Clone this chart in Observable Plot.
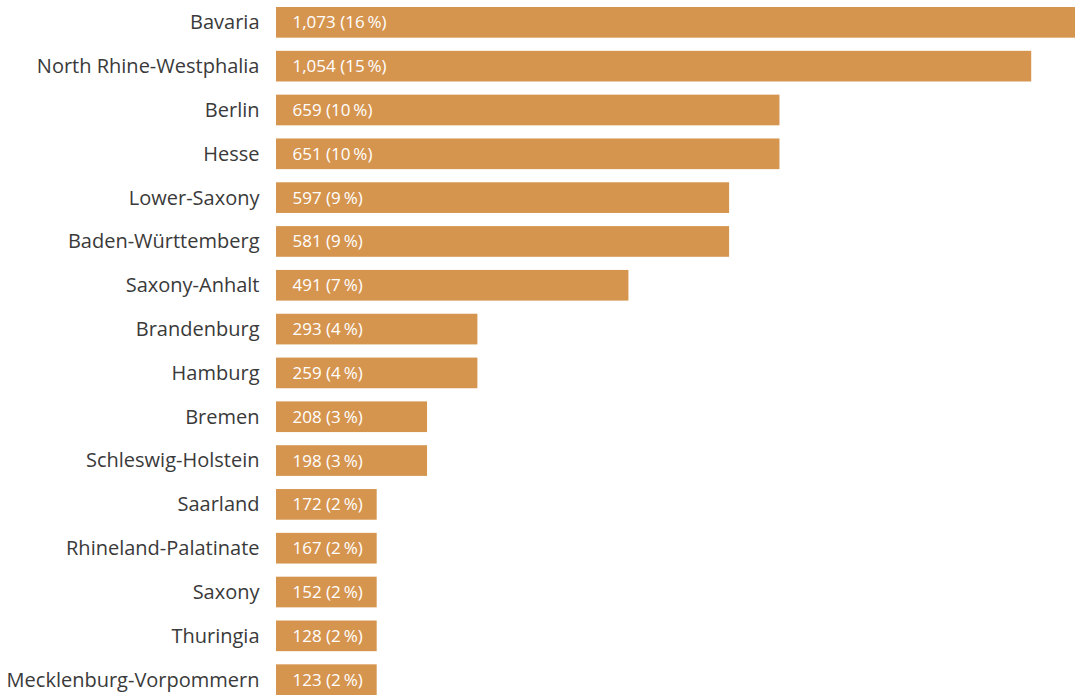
<!DOCTYPE html>
<html>
<head>
<meta charset="utf-8">
<script src="https://cdn.jsdelivr.net/npm/d3@7"></script>
<script src="https://cdn.jsdelivr.net/npm/@observablehq/plot@0.6"></script>
<style>
  html, body { margin: 0; padding: 0; background: #fff; }
  #chart svg { display: block; }
</style>
</head>
<body>
<div id="chart"></div>
<script>
const states = ["Bavaria", "North Rhine-Westphalia", "Berlin", "Hesse", "Lower-Saxony", "Baden-Württemberg", "Saxony-Anhalt", "Brandenburg", "Hamburg", "Bremen", "Schleswig-Holstein", "Saarland", "Rhineland-Palatinate", "Saxony", "Thuringia", "Mecklenburg-Vorpommern"];
const counts = [1073, 1054, 659, 651, 597, 581, 491, 293, 259, 208, 198, 172, 167, 152, 128, 123];
const percents = [16, 15, 10, 10, 9, 9, 7, 4, 4, 3, 3, 2, 2, 2, 2, 2];

const data = states.map((s, i) => ({state: s, count: counts[i], pct: percents[i]}));
const fmt = d3.format(",");
const FONT = "'Open Sans', sans-serif";

const chart = Plot.plot({
  width: 1075,
  height: 695,
  marginLeft: 276,
  marginRight: 0,
  marginTop: 7,
  marginBottom: 0,
  style: {fontFamily: FONT, background: "#fff"},
  x: {domain: [0, 15.87], axis: null},
  y: {domain: states, paddingInner: 0.3, paddingOuter: 0, round: false, label: null},
  marks: [
    Plot.barX(data, {y: "state", x: "pct", fill: "#d6954f", clip: true}),
    Plot.text(data, {
      y: "state", x: 0, text: d => `${fmt(d.count)} (${d.pct}\u2009%)`,
      textAnchor: "start", dx: 16, fill: "#ffffff", fontSize: 17, fontFamily: FONT
    }),
    Plot.axisY({tickSize: 0, tickPadding: 17, fontSize: 20, fill: "#3a3a3a", fontFamily: FONT, label: null})
  ]
});
document.getElementById("chart").appendChild(chart);
</script>
</body>
</html>
